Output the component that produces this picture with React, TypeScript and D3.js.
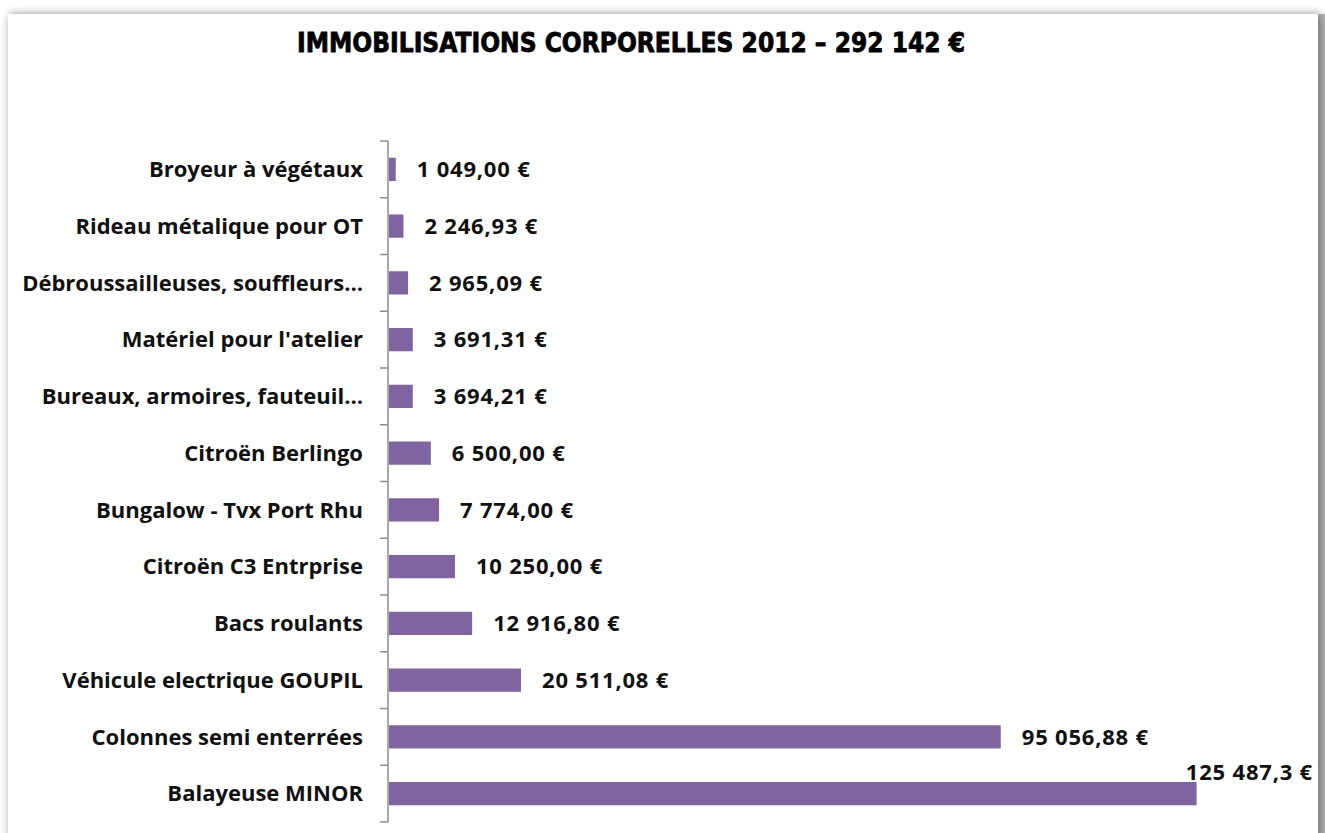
import React from "react";
import * as d3 from "d3";

const title = "IMMOBILISATIONS CORPORELLES 2012 – 292 142 €";
const categories = [
  "Broyeur à végétaux",
  "Rideau métalique pour OT",
  "Débroussailleuses, souffleurs…",
  "Matériel pour l'atelier",
  "Bureaux, armoires, fauteuil…",
  "Citroën Berlingo",
  "Bungalow - Tvx Port Rhu",
  "Citroën C3 Entrprise",
  "Bacs roulants",
  "Véhicule electrique GOUPIL",
  "Colonnes semi enterrées",
  "Balayeuse MINOR",
];
const values = [
  1049.0, 2246.93, 2965.09, 3691.31, 3694.21, 6500.0, 7774.0, 10250.0, 12916.8,
  20511.08, 95056.88, 125487.3,
];
const valueLabels = [
  "1 049,00 €",
  "2 246,93 €",
  "2 965,09 €",
  "3 691,31 €",
  "3 694,21 €",
  "6 500,00 €",
  "7 774,00 €",
  "10 250,00 €",
  "12 916,80 €",
  "20 511,08 €",
  "95 056,88 €",
  "125 487,3 €",
];

const W = 1325;
const H = 833;
const FONT = "'Open Sans', Lato, sans-serif";

export default function App() {
  const x = d3.scaleLinear().domain([0, 140000]).range([389, 1290]);
  const y = d3.scaleBand<string>().domain(categories).range([141, 822]).paddingInner(0.59).paddingOuter(0.295);
  const bandStep = y.step();
  const axisX = 388;
  return (
    <svg width={W} height={H} style={{ position: "absolute", left: 0, top: 0, background: "#ffffff" }}>
      <defs>
        <filter id="sh" x="-5%" y="-5%" width="110%" height="110%">
          <feGaussianBlur in="SourceAlpha" stdDeviation="5" />
          <feOffset dx="2" dy="0" result="b" />
          <feComponentTransfer>
            <feFuncA type="linear" slope="0.45" />
          </feComponentTransfer>
          <feMerge>
            <feMergeNode />
            <feMergeNode in="SourceGraphic" />
          </feMerge>
        </filter>
      </defs>
      <rect x={1318} y={14} width={7} height={H} fill="#b8b8b8" />
      <rect x={8} y={14} width={1310} height={H + 20} fill="#ffffff" filter="url(#sh)" />
      <text
        x={631}
        y={52}
        textAnchor="middle"
        fontFamily="'DejaVu Sans', sans-serif"
        fontWeight="bold"
        fontSize={26}
        textLength={668}
        lengthAdjust="spacingAndGlyphs"
        stroke="#000"
        strokeWidth={0.8}
        fill="#000"
      >
        {title}
      </text>
      {/* axis */}
      <line x1={axisX} x2={axisX} y1={141} y2={822} stroke="#8c8c8c" strokeWidth={1.5} />
      {d3.range(categories.length + 1).map((i) => (
        <line
          key={"t" + i}
          x1={axisX - 8}
          x2={axisX}
          y1={141 + i * bandStep}
          y2={141 + i * bandStep}
          stroke="#8c8c8c"
          strokeWidth={1.5}
        />
      ))}
      {categories.map((c, i) => {
        const yc = (y(c) as number) + y.bandwidth() / 2;
        const last = i === categories.length - 1;
        return (
          <g key={c}>
            <rect x={x(0)} y={y(c)} width={x(values[i]) - x(0)} height={y.bandwidth()} fill="#8064A2" />
            <text
              x={363}
              y={yc}
              dy="0.35em"
              textAnchor="end"
              fontFamily={FONT}
              fontWeight="bold"
              fontSize={22}
              fill="#111"
            >
              {c}
            </text>
            <text
              x={last ? 1313 : x(values[i]) + 21}
              y={last ? yc - 21 : yc}
              dy="0.35em"
              textAnchor={last ? "end" : "start"}
              fontFamily={FONT}
              fontWeight="bold"
              fontSize={22}
              letterSpacing={0.8}
              fill="#111"
            >
              {valueLabels[i]}
            </text>
          </g>
        );
      })}
    </svg>
  );
}
